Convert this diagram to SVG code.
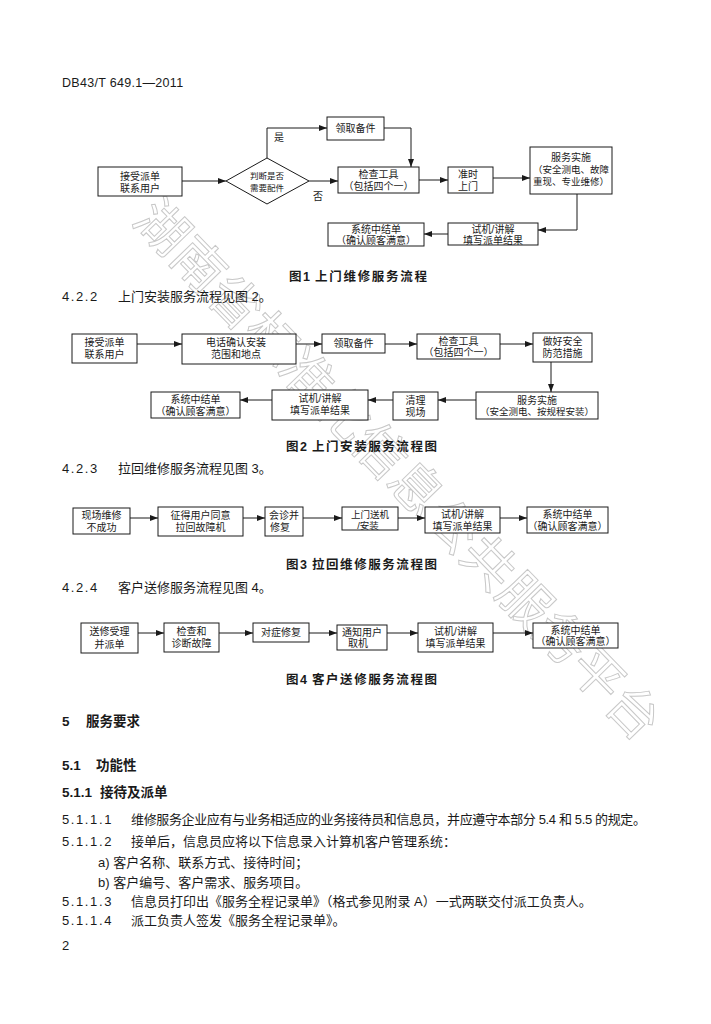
<svg xmlns="http://www.w3.org/2000/svg" width="711" height="1024" viewBox="0 0 711 1024">
<defs>
<marker id="ah" viewBox="0 0 8 6" refX="8" refY="3" markerWidth="8" markerHeight="6" markerUnits="userSpaceOnUse" orient="auto">
<path d="M0,0 L8,3 L0,6 Z" fill="#1a1a1a"/>
</marker>
<style>
text{font-family:"Liberation Sans","Noto Sans CJK SC",sans-serif;fill:#1a1a1a}
.n rect,.n polygon{fill:#fff;stroke:#1a1a1a;stroke-width:1}
.n text{font-size:10px;text-anchor:middle}
.c path{fill:none;stroke:#1a1a1a;stroke-width:1;marker-end:url(#ah)}
.lbl{font-size:10px;text-anchor:middle}
.cap{font-size:12.5px;font-weight:bold}
.body{font-size:13px}
.num{font-size:13px;letter-spacing:1.6px}
.hd{font-size:13.5px;font-weight:bold}
.wm{font-family:"Noto Sans CJK SC",sans-serif;font-size:52px;fill:none;stroke:#c8c8c8;stroke-width:1;text-anchor:middle}
</style>
</defs>
<rect width="711" height="1024" fill="#fff"/>

<!-- watermark -->
<text class="wm" x="398" y="488" transform="rotate(45.8 398 470)">湖南省标准化信息公共服务平台</text>

<text x="62" y="87" style="font-size:12.5px;letter-spacing:0.3px">DB43/T 649.1—2011</text>

<!-- Figure 1 -->
<g id="fig1-connectors" class="c">
<path d="M182,181 H226"/>
<path d="M267,158 V128 H327"/>
<path d="M309,181 H338"/>
<path d="M384,128 H411 V167"/>
<path d="M419,180 H448"/>
<path d="M493,178 H530"/>
<path d="M577,194 V230 H538"/>
<path d="M448,234 H424"/>
</g>
<text class="lbl" x="279" y="141">是</text>
<text class="lbl" x="318" y="200">否</text>
<g id="f1-n1" class="n"><rect x="98" y="167" width="84" height="29"/><text x="140" y="180">接受派单</text><text x="140" y="192">联系用户</text></g>
<g id="f1-d1" class="n"><polygon points="226,181 267,158 309,181 267,204"/><text x="267" y="179" style="font-size:8.5px">判断是否</text><text x="267" y="191" style="font-size:8.5px">需要配件</text></g>
<g id="f1-n2" class="n"><rect x="327" y="117" width="57" height="23"/><text x="355.5" y="132">领取备件</text></g>
<g id="f1-n3" class="n"><rect x="338" y="167" width="81" height="26"/><text x="378.5" y="178">检查工具</text><text x="378.5" y="190">（包括四个一）</text></g>
<g id="f1-n4" class="n"><rect x="448" y="167" width="45" height="26"/><text x="468" y="178">准时</text><text x="468" y="190">上门</text></g>
<g id="f1-n5" class="n"><rect x="530" y="147" width="82" height="47"/><text x="571" y="161">服务实施</text><text x="571" y="173" style="font-size:9.5px">（安全测电、故障</text><text x="571" y="185" style="font-size:9.5px">重现、专业维修）</text></g>
<g id="f1-n6" class="n"><rect x="448" y="223" width="90" height="22"/><text x="493" y="233">试机/讲解</text><text x="493" y="243.5">填写派单结果</text></g>
<g id="f1-n7" class="n"><rect x="328" y="223" width="96" height="23"/><text x="376" y="233">系统中结单</text><text x="376" y="244">（确认顾客满意）</text></g>
<text class="cap" x="289" y="281">图</text><text class="cap" x="303" y="281">1</text><text class="cap" x="315" y="281" textLength="112" lengthAdjust="spacing">上门维修服务流程</text>

<text class="num" x="62" y="301">4.2.2</text><text class="body" x="118" y="301">上门安装服务流程见图 2。</text>

<!-- Figure 2 -->
<g id="fig2-connectors" class="c">
<path d="M137,344 H182"/>
<path d="M296,344 H322"/>
<path d="M385,344 H417"/>
<path d="M500,344 H533"/>
<path d="M551,362 V392"/>
<path d="M476,400 H438"/>
<path d="M393,400 H368"/>
<path d="M272,400 H240"/>
</g>
<g id="f2-n1" class="n"><rect x="72" y="334" width="65" height="29"/><text x="104.5" y="346">接受派单</text><text x="104.5" y="358">联系用户</text></g>
<g id="f2-n2" class="n"><rect x="182" y="334" width="114" height="30"/><text x="236" y="346">电话确认安装</text><text x="236" y="358">范围和地点</text></g>
<g id="f2-n3" class="n"><rect x="322" y="334" width="63" height="19"/><text x="353.5" y="347">领取备件</text></g>
<g id="f2-n4" class="n"><rect x="417" y="334" width="83" height="25"/><text x="458.5" y="344.5">检查工具</text><text x="458.5" y="356">（包括四个一）</text></g>
<g id="f2-n5" class="n"><rect x="533" y="333" width="59" height="29"/><text x="562.5" y="345">做好安全</text><text x="562.5" y="357">防范措施</text></g>
<g id="f2-n6" class="n"><rect x="476" y="392" width="122" height="27"/><text x="537" y="403.5">服务实施</text><text x="537" y="415" style="font-size:9.5px">（安全测电、按规程安装）</text></g>
<g id="f2-n7" class="n"><rect x="393" y="392" width="45" height="28"/><text x="415.5" y="403.5">清理</text><text x="415.5" y="415.5">现场</text></g>
<g id="f2-n8" class="n"><rect x="272" y="390" width="96" height="30"/><text x="320" y="402">试机/讲解</text><text x="320" y="414">填写派单结果</text></g>
<g id="f2-n9" class="n"><rect x="151" y="392" width="89" height="26"/><text x="195.5" y="403">系统中结单</text><text x="195.5" y="415">（确认顾客满意）</text></g>
<text class="cap" x="286" y="451">图</text><text class="cap" x="300" y="451">2</text><text class="cap" x="312" y="451" textLength="125" lengthAdjust="spacing">上门安装服务流程图</text>

<text class="num" x="62" y="473">4.2.3</text><text class="body" x="118" y="473">拉回维修服务流程见图 3。</text>

<!-- Figure 3 -->
<g id="fig3-connectors" class="c">
<path d="M130,518 H158"/>
<path d="M243,518 H265"/>
<path d="M303,518 H342"/>
<path d="M398,518 H425"/>
<path d="M500,518 H527"/>
</g>
<g id="f3-n1" class="n"><rect x="73" y="508" width="57" height="26"/><text x="101.5" y="519">现场维修</text><text x="101.5" y="531">不成功</text></g>
<g id="f3-n2" class="n"><rect x="158" y="507" width="85" height="29"/><text x="200.5" y="519">征得用户同意</text><text x="200.5" y="531">拉回故障机</text></g>
<g id="f3-n3" class="n"><rect x="265" y="507" width="38" height="29"/><text x="284" y="519">会诊并</text><text x="280" y="531">修复</text></g>
<g id="f3-n4" class="n"><rect x="342" y="507" width="56" height="23"/><text x="370" y="518" style="font-size:9.5px">上门送机</text><text x="368" y="528.5" style="font-size:9.5px">/安装</text></g>
<g id="f3-n5" class="n"><rect x="425" y="507" width="75" height="26"/><text x="462.5" y="518">试机/讲解</text><text x="462.5" y="530">填写派单结果</text></g>
<g id="f3-n6" class="n"><rect x="527" y="507" width="81" height="26"/><text x="567.5" y="518">系统中结单</text><text x="567.5" y="530">（确认顾客满意）</text></g>
<text class="cap" x="286" y="569">图</text><text class="cap" x="300" y="569">3</text><text class="cap" x="312" y="569" textLength="125" lengthAdjust="spacing">拉回维修服务流程图</text>

<text class="num" x="62" y="592">4.2.4</text><text class="body" x="118" y="592">客户送修服务流程见图 4。</text>

<!-- Figure 4 -->
<g id="fig4-connectors" class="c">
<path d="M138,633 H164"/>
<path d="M219,633 H253"/>
<path d="M309,633 H337"/>
<path d="M387,633 H418"/>
<path d="M493,633 H533"/>
</g>
<g id="f4-n1" class="n"><rect x="81" y="623" width="57" height="30"/><text x="109.5" y="635">送修受理</text><text x="109.5" y="648">并派单</text></g>
<g id="f4-n2" class="n"><rect x="164" y="623" width="55" height="29"/><text x="191.5" y="635">检查和</text><text x="191.5" y="647">诊断故障</text></g>
<g id="f4-n3" class="n"><rect x="253" y="623" width="56" height="19"/><text x="281" y="636">对症修复</text></g>
<g id="f4-n4" class="n"><rect x="337" y="625" width="50" height="25"/><text x="362" y="636">通知用户</text><text x="358" y="647">取机</text></g>
<g id="f4-n5" class="n"><rect x="418" y="623" width="75" height="29"/><text x="455.5" y="635">试机/讲解</text><text x="455.5" y="647">填写派单结果</text></g>
<g id="f4-n6" class="n"><rect x="533" y="623" width="85" height="25"/><text x="575.5" y="634">系统中结单</text><text x="575.5" y="645">（确认顾客满意）</text></g>
<text class="cap" x="286" y="684">图</text><text class="cap" x="300" y="684">4</text><text class="cap" x="312" y="684" textLength="125" lengthAdjust="spacing">客户送修服务流程图</text>

<!-- Section 5 -->
<text class="hd" x="62" y="726">5</text><text class="hd" x="86" y="726">服务要求</text>
<text class="hd" x="62" y="770">5.1</text><text class="hd" x="96" y="770">功能性</text>
<text class="hd" x="62" y="797">5.1.1</text><text class="hd" x="100" y="797">接待及派单</text>

<text class="num" x="62" y="824">5.1.1.1</text><text class="body" x="131" y="824" textLength="515" lengthAdjust="spacing">维修服务企业应有与业务相适应的业务接待员和信息员，并应遵守本部分 5.4 和 5.5 的规定。</text>
<text class="num" x="62" y="846">5.1.1.2</text><text class="body" x="131" y="846">接单后，信息员应将以下信息录入计算机客户管理系统：</text>
<text class="body" x="98" y="867">a) 客户名称、联系方式、接待时间；</text>
<text class="body" x="98" y="887">b) 客户编号、客户需求、服务项目。</text>
<text class="num" x="62" y="906">5.1.1.3</text><text class="body" x="131" y="906">信息员打印出《服务全程记录单》（格式参见附录 A）一式两联交付派工负责人。</text>
<text class="num" x="62" y="925">5.1.1.4</text><text class="body" x="131" y="925">派工负责人签发《服务全程记录单》。</text>

<text class="body" x="62" y="950">2</text>
</svg>
